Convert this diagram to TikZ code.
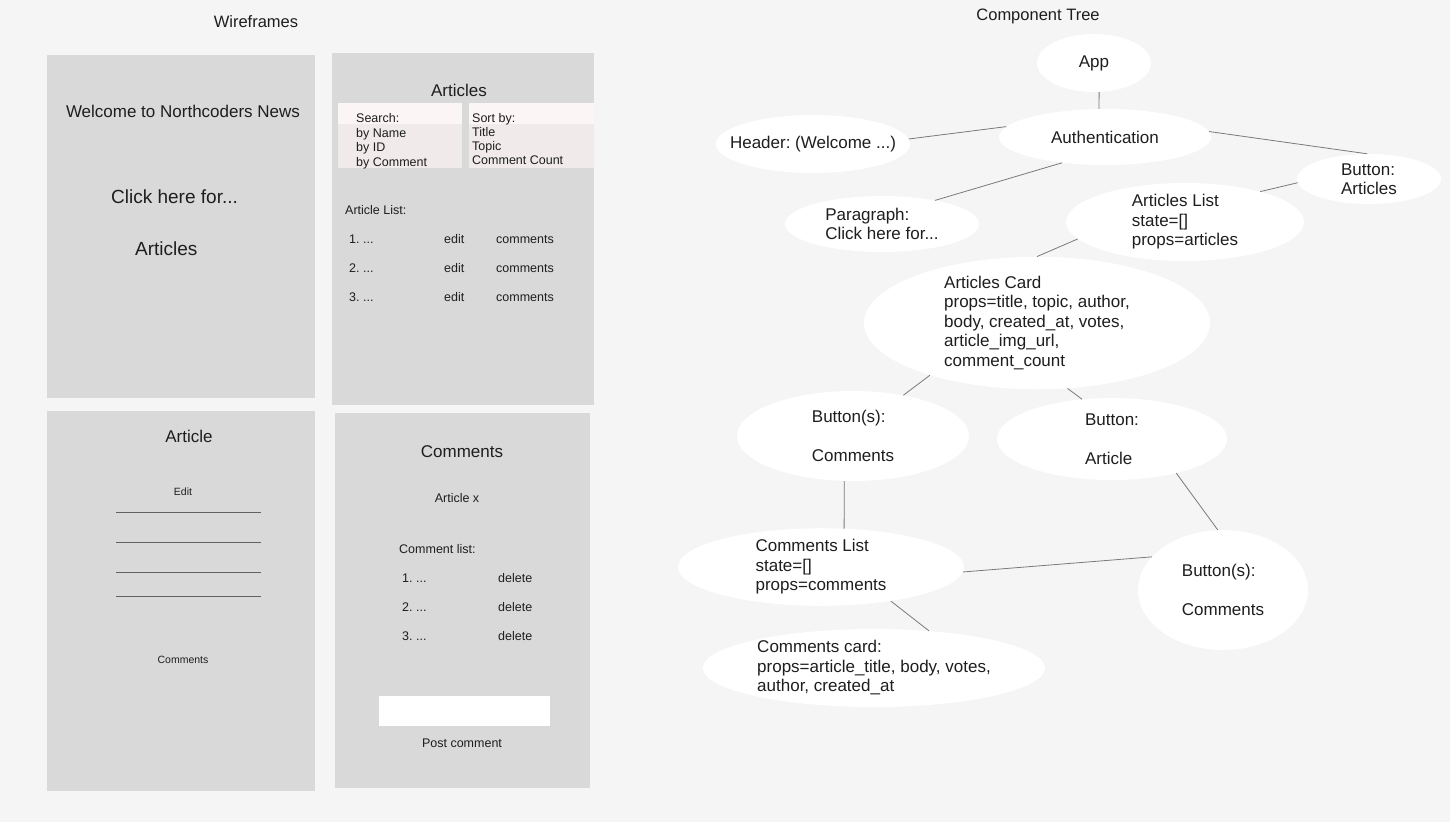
\documentclass[tikz,border=0pt]{standalone}
\usepackage{fontspec}
\setmainfont{Liberation Sans}
\frenchspacing
\usetikzlibrary{shapes.geometric}
\definecolor{canvas}{HTML}{F5F5F5}
\definecolor{frame}{HTML}{D9D9D9}
\definecolor{boxpink}{HTML}{F0EAEA}
\definecolor{boxtop}{HTML}{FBF5F5}
\definecolor{ink}{HTML}{1E1E1E}
\definecolor{wire}{HTML}{7A7A7A}
\def\fsize#1{\fontsize{#1}{#1}\selectfont}
\tikzset{
  txt/.style={inner sep=0pt, text=ink},
  bubble/.style={ellipse, fill=white, inner sep=0pt, align=left, text=ink, font=\fontsize{17}{19.5}\selectfont},
  link/.style={draw=wire, line width=0.8pt},
}

\begin{document}
\begin{tikzpicture}[x=1pt, y=-1pt]
			%%%%% START %%%%%
			
			\fill[canvas] (0, 0) rectangle (1450, 822);
			
			\node[txt, anchor=base, font=\fsize{16.5}] (wftitle) at (256, 27) {Wireframes};
			\node[txt, anchor=base, font=\fsize{16.5}] (cttitle) at (1038, 20) {Component Tree};
			
			% home page
			\fill[frame] (47, 55) rectangle (315, 398);
			\node[txt, anchor=base, font=\fsize{17}] (welcome) at (183, 117) {Welcome to Northcoders News};
			\node[txt, anchor=base west, font=\fsize{19}] (clickhere) at (111, 203) {Click here for...};
			\node[txt, anchor=base west, font=\fsize{19}] (homearticles) at (135, 255) {Articles};
			
			% articles page
			\fill[frame] (332, 53) rectangle (594, 405);
			\node[txt, anchor=base, font=\fsize{17}] (artstitle) at (459, 96) {Articles};
			\fill[boxpink] (338, 103) rectangle (462, 168);
			\fill[boxtop] (338, 103) rectangle (462, 124);
			\fill[boxpink] (469, 103) rectangle (594, 168);
			\fill[boxtop] (469, 103) rectangle (594, 124);
			\node[txt, anchor=base west, font=\fsize{12.5}] (search) at (356, 122) {Search:};
			\node[txt, anchor=base west, font=\fsize{12.5}] (byname) at (356, 137) {by Name};
			\node[txt, anchor=base west, font=\fsize{12.5}] (byid) at (356, 151) {by ID};
			\node[txt, anchor=base west, font=\fsize{12.5}] (bycomment) at (356, 166) {by Comment};
			\node[txt, anchor=base west, font=\fsize{12.5}] (sortby) at (472, 122) {Sort by:};
			\node[txt, anchor=base west, font=\fsize{12.5}] (bytitle) at (472, 136) {Title};
			\node[txt, anchor=base west, font=\fsize{12.5}] (bytopic) at (472, 150) {Topic};
			\node[txt, anchor=base west, font=\fsize{12.5}] (bycount) at (472, 164) {Comment Count};
			\node[txt, anchor=base west, font=\fsize{12.5}] (artlist) at (345, 214) {Article List:};
			\node[txt, anchor=base west, font=\fsize{12.5}] (rowone) at (349, 243) {1. ...};
			\node[txt, anchor=base west, font=\fsize{12.5}] (editone) at (444, 243) {edit};
			\node[txt, anchor=base west, font=\fsize{12.5}] (cmtone) at (496, 243) {comments};
			\node[txt, anchor=base west, font=\fsize{12.5}] (rowtwo) at (349, 272) {2. ...};
			\node[txt, anchor=base west, font=\fsize{12.5}] (edittwo) at (444, 272) {edit};
			\node[txt, anchor=base west, font=\fsize{12.5}] (cmttwo) at (496, 272) {comments};
			\node[txt, anchor=base west, font=\fsize{12.5}] (rowthree) at (349, 301) {3. ...};
			\node[txt, anchor=base west, font=\fsize{12.5}] (editthree) at (444, 301) {edit};
			\node[txt, anchor=base west, font=\fsize{12.5}] (cmtthree) at (496, 301) {comments};
			
			% article page
			\fill[frame] (47, 411) rectangle (315, 791);
			\node[txt, anchor=base, font=\fsize{17}] (arttitle) at (189, 442) {Article};
			\node[txt, anchor=base, font=\fsize{10.5}] (artedit) at (183, 495) {Edit};
			\draw[ink!70, line width=0.8pt] (116, 512) -- (261, 512);
			\draw[ink!70, line width=0.8pt] (116, 542) -- (261, 542);
			\draw[ink!70, line width=0.8pt] (116, 572) -- (261, 572);
			\draw[ink!70, line width=0.8pt] (116, 596) -- (261, 596);
			\node[txt, anchor=base, font=\fsize{10.5}] (artcomments) at (183, 663) {Comments};
			
			% comments page
			\fill[frame] (335, 413) rectangle (590, 788);
			\node[txt, anchor=base, font=\fsize{17}] (cmtstitle) at (462, 457) {Comments};
			\node[txt, anchor=base, font=\fsize{12.5}] (articlex) at (457, 502) {Article x};
			\node[txt, anchor=base west, font=\fsize{12.5}] (cmtlist) at (399, 553) {Comment list:};
			\node[txt, anchor=base west, font=\fsize{12.5}] (cmtrowone) at (402, 582) {1. ...};
			\node[txt, anchor=base west, font=\fsize{12.5}] (delone) at (498, 582) {delete};
			\node[txt, anchor=base west, font=\fsize{12.5}] (cmtrowtwo) at (402, 611) {2. ...};
			\node[txt, anchor=base west, font=\fsize{12.5}] (deltwo) at (498, 611) {delete};
			\node[txt, anchor=base west, font=\fsize{12.5}] (cmtrowthree) at (402, 640) {3. ...};
			\node[txt, anchor=base west, font=\fsize{12.5}] (delthree) at (498, 640) {delete};
			\fill[white] (379, 696) rectangle (550, 726);
			\node[txt, anchor=base, font=\fsize{12.5}] (postcmt) at (462, 747) {Post comment};
			
			% component tree
			\node[bubble, minimum width=114, minimum height=58] (app) at (1094, 63) {App};
			\node[bubble, minimum width=212, minimum height=56] (auth) at (1105, 137) {Authentication};
			\node[bubble, inner xsep=-18pt, minimum width=194, minimum height=58] (header) at (813, 144) {Header: (Welcome ...)};
			\node[bubble, minimum width=144, minimum height=50] (btnarticles) at (1369, 179) {Button:\\Articles};
			\node[bubble, minimum width=194, minimum height=56] (paragraph) at (882, 224) {Paragraph:\\Click here for...};
			\node[bubble, minimum width=238, minimum height=78] (articleslist) at (1185, 222) {Articles List\\state=[]\\props=articles};
			\node[bubble, minimum width=346, minimum height=130] (articlescard) at (1037, 323) {Articles Card\\props=title, topic, author,\\body, created\_at, votes,\\article\_img\_url,\\comment\_count};
			\node[bubble, minimum width=232, minimum height=90] (btncomments) at (853, 436) {Button(s):\\[19.5pt]Comments};
			\node[bubble, minimum width=230, minimum height=82] (btnarticle) at (1112, 439) {Button:\\[19.5pt]Article};
			\node[bubble, minimum width=286, minimum height=76] (commentslist) at (821, 567) {Comments List\\state=[]\\props=comments};
			\node[bubble, minimum width=170, minimum height=120] (btncommentsb) at (1223, 590) {Button(s):\\[19.5pt]Comments};
			\node[bubble, minimum width=342, minimum height=78] (commentscard) at (874, 668) {Comments card:\\props=article\_title, body, votes,\\author, created\_at};
			
			\draw[link] (app.-80) -- (auth.102);
			\draw[link] (header.3) -- (auth.174);
			\draw[link] (auth.211) -- (paragraph.24);
			\draw[link] (auth.3) -- (btnarticles.94);
			\draw[link] (btnarticles.183) -- (articleslist.22);
			\draw[link] (articleslist.189) -- (articlescard.90);
			\draw[link] (articlescard.206) -- (btncomments.39);
			\draw[link] (articlescard.-65) -- (btnarticle.127);
			\draw[link] (btncomments.259) -- (commentslist.59);
			\draw[link] (btnarticle.-28) -- (btncommentsb.95);
			\draw[link] (commentslist.-2) -- (btncommentsb.155);
			\draw[link] (commentslist.-26) -- (commentscard.34);
			
			%%%%% END %%%%%
\end{tikzpicture}
\end{document}
